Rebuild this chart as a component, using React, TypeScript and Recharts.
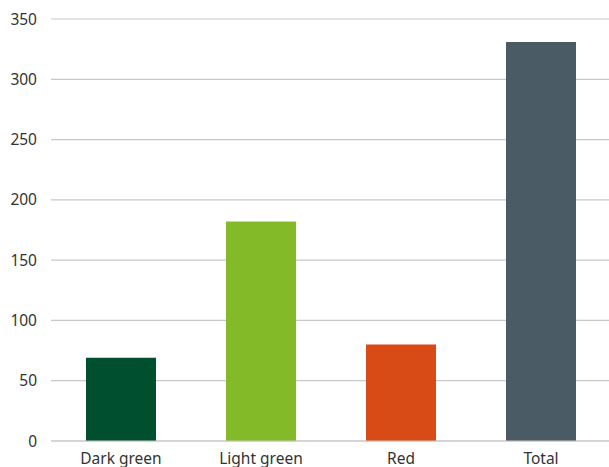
import { BarChart, Bar, XAxis, YAxis, CartesianGrid, Cell } from "recharts";

const categories = ["Dark green", "Light green", "Red", "Total"];
const values = [69, 182, 80, 331];
const barColors = ["#00502f", "#83ba28", "#d84b16", "#4a5b66"];
const yTicks = [0, 50, 100, 150, 200, 250, 300, 350];

const data = categories.map((name, i) => ({ name, value: values[i] }));

const FONT = "'Noto Sans', sans-serif";

export default function App() {
  return (
    <div
      style={{
        position: "absolute",
        left: 0,
        top: 0,
        width: 609,
        height: 467,
        overflow: "hidden",
        background: "#fff",
      }}
    >
      <BarChart
        width={611}
        height={475}
        data={data}
        margin={{ top: 19, right: 0, left: 0, bottom: 0 }}
        barCategoryGap="25%"
      >
        <CartesianGrid vertical={false} stroke="#c8c8c8" strokeWidth={1.2} />
        <XAxis
          dataKey="name"
          height={34}
          axisLine={{ stroke: "#c8c8c8", strokeWidth: 1.2 }}
          tickLine={false}
          tickSize={0}
          tickMargin={12}
          tick={{ fontSize: 15.5, fill: "#333", fontFamily: FONT }}
        />
        <YAxis
          width={51}
          domain={[0, 350]}
          ticks={yTicks}
          axisLine={false}
          tickLine={false}
          tickSize={0}
          tickMargin={14}
          interval={0}
          tick={{ fontSize: 15.5, fill: "#333", fontFamily: FONT }}
        />
        <Bar dataKey="value" isAnimationActive={false}>
          {data.map((d, i) => (
            <Cell key={d.name} fill={barColors[i]} />
          ))}
        </Bar>
      </BarChart>
    </div>
  );
}
